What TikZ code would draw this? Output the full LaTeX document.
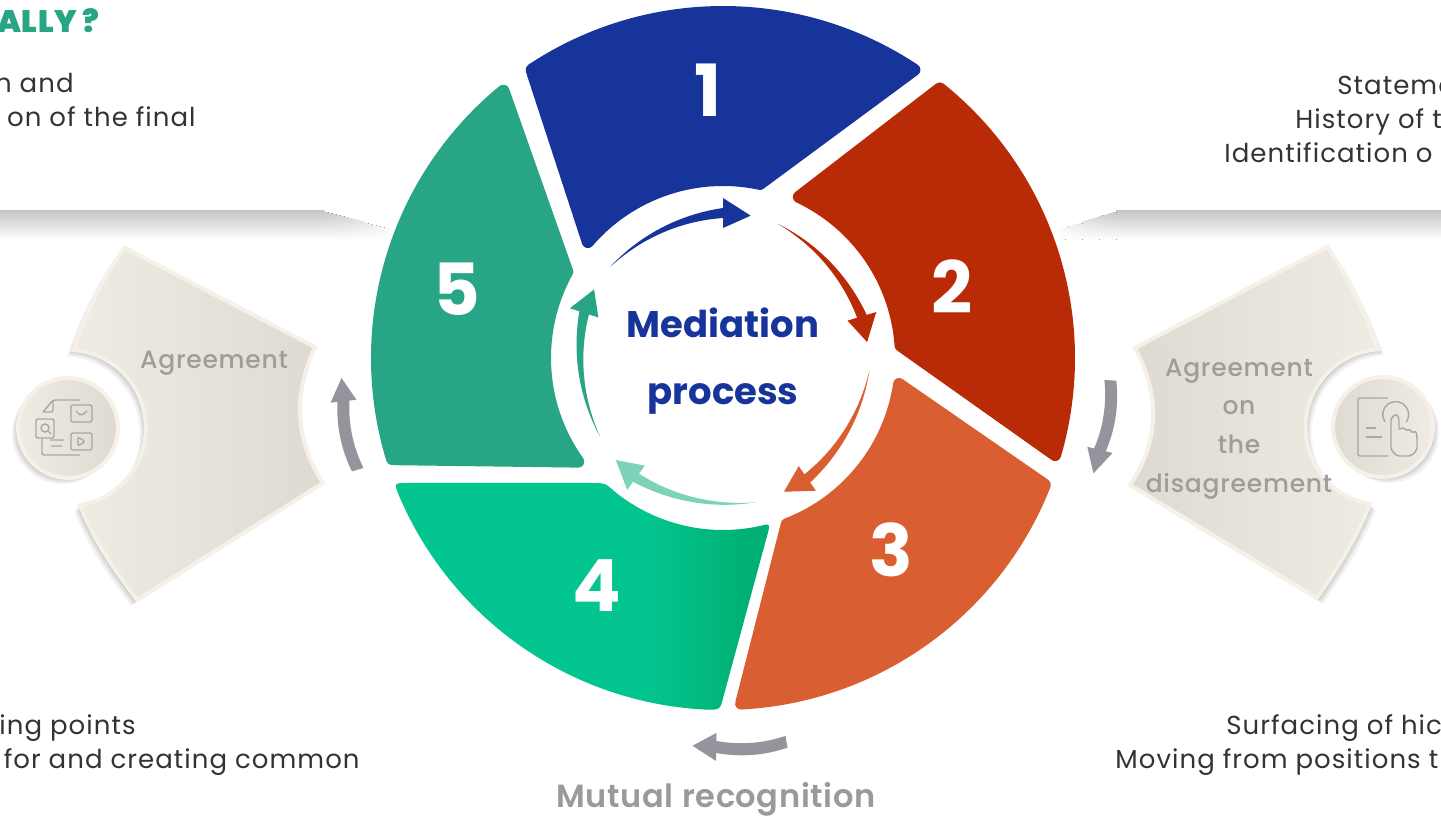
\documentclass[tikz,border=0pt]{standalone}
\usepackage{fontspec}
\setmainfont{Poppins}
\newfontfamily\bodyfont{Poppins}[LetterSpace=4]
\newfontfamily\medfont{Poppins Medium}[LetterSpace=3]
\newfontfamily\semifont{Poppins SemiBold}[LetterSpace=2]
\definecolor{blueseg}{HTML}{17349B}
\definecolor{redseg}{HTML}{B92B06}
\definecolor{orangeseg}{HTML}{D95F33}
\definecolor{greenseg}{HTML}{03C590}
\definecolor{greendark}{HTML}{00B074}
\definecolor{tealseg}{HTML}{27A585}
\definecolor{paleteal}{HTML}{7DD3B9}
\definecolor{greyarrow}{HTML}{94949C}
\definecolor{greytext}{HTML}{9A9A9A}
\definecolor{leafrim}{HTML}{F6F1E8}
\definecolor{leaflight}{HTML}{F1ECE3}
\definecolor{leafdark}{HTML}{DFDAD1}
\definecolor{leaftext}{HTML}{A09D96}
\definecolor{icongrey}{HTML}{ABA79F}
\definecolor{bodytext}{HTML}{333333}
\pgfdeclarehorizontalshading{greenfade}{100bp}{color(0bp)=(greenseg); color(58bp)=(greenseg); color(72bp)=(greendark); color(100bp)=(greendark)}
\tikzset{
    x=0.5pt, y=0.5pt, % one unit is one pixel of the reference
    seglabel/.style={text=white, font=\fontsize{36}{36}\bfseries\selectfont},
    bodyline/.style={text=bodytext, inner sep=0pt, font=\bodyfont\fontsize{13}{13}\selectfont},
    leaflabel/.style={text=leaftext, align=center, inner sep=0pt, font=\medfont\fontsize{12.5}{19.4}\selectfont},
    hublabel/.style={text=blueseg, font=\fontsize{18.5}{18.5}\bfseries\selectfont},
    leaf/.style={draw=leafrim, line width=2pt},
    iconline/.style={draw=icongrey, line width=0.7pt, rounded corners=1pt},
}
% outer start, outer end, inner end, inner start (shape of the rounded sectors)
\newcommand{\segpath}[4]{(#1:346) arc[start angle=#1, end angle=#2, radius=346] -- (#3:178) arc[start angle=#3, end angle=#4, radius=178] -- cycle}
% colour, tail, head base, tip, radius, half shaft, half head, half tail
\newcommand{\flowarrow}[8]{\fill[#1] ({#2}:{#5+#8})
    .. controls ({#2+(#3-#2)/3}:{(#5+#8+(#6-#8)/3)*1.012}) and ({#2+2*(#3-#2)/3}:{(#5+#8+2*(#6-#8)/3)*1.012}) .. ({#3}:{#5+#6})
    -- ({#3}:{#5+#7}) -- ({#4}:{#5}) -- ({#3}:{#5-#7}) -- ({#3}:{#5-#6})
    .. controls ({#2+2*(#3-#2)/3}:{(#5-#8-2*(#6-#8)/3)*1.012}) and ({#2+(#3-#2)/3}:{(#5-#8-(#6-#8)/3)*1.012}) .. ({#2}:{#5-#8}) -- cycle;}
\newcommand{\leftleaf}{(125,567) -- (315,468) .. controls (293,420) and (295,375) .. (323,332) -- (137,215) .. controls (112,248) and (92,278) .. (80,310) arc[start angle=-81, end angle=86, radius=78] .. controls (85,500) and (103,540) .. (125,567) -- cycle}
\newcommand{\rightleaf}{(1327,568) -- (1135,467) .. controls (1160,420) and (1160,375) .. (1130,330) -- (1317,217) .. controls (1340,250) and (1358,280) .. (1370,311) arc[start angle=260, end angle=94, radius=78] .. controls (1365,500) and (1348,540) .. (1327,568) -- cycle}

\begin{document}
\begin{tikzpicture}
  \useasboundingbox (0,0) rectangle (1441,815);
  \fill[white] (0,0) rectangle (1441,815);

  % shadow bands
  \fill[top color=black!22, bottom color=white] (0,604) rectangle (320,575);
  \fill[top color=black!22, bottom color=white] (1441,604) rectangle (1120,575);
  \foreach \i in {0,...,17}{
    \pgfmathsetmacro\tint{22*(1-\i/18)}
    \pgfmathsetmacro\dip{\i*1.1}
    \fill[top color=black!\tint, bottom color=white] ({320+\i*4},{604-\dip}) rectangle ({324.6+\i*4},575);
    \fill[top color=black!\tint, bottom color=white] ({1120-\i*3.4},{604-\dip}) rectangle ({1116-\i*3.4},575);
  }

  % leaves and their icon discs
  \foreach \off/\op in {6/.05,4/.08,2/.12}{
    \fill[black, opacity=\op, shift={(-\off,-\off)}] \leftleaf;
    \fill[black, opacity=\op, shift={(-\off,-\off)}] (68,387) circle (50);
    \fill[black, opacity=\op, shift={(\off,-\off)}] \rightleaf;
    \fill[black, opacity=\op, shift={(\off,-\off)}] (1383,388) circle (50);
  }
  \path[leaf, left color=leaflight, right color=leafdark] \leftleaf;
  \path[leaf, left color=leafdark, right color=leaflight] \rightleaf;
  \path[leaf, left color=leaflight, right color=leafdark] (68,387) circle (50);
  \path[leaf, left color=leafdark, right color=leaflight] (1383,388) circle (50);

  % left icon
  \draw[iconline] (43,403) -- (53,415) -- (80,415) (43,403) -- (53,403) -- (53,415);
  \draw[iconline] (71,393) rectangle (92,410) (76,404) -- (81,399) -- (87,404);
  \draw[iconline] (36,377) rectangle (54,396) (45,387) circle (4) (48,384) -- (51,381);
  \draw[iconline] (71,365) rectangle (92,382) (78,378) -- (78,369) -- (85,373.5) -- cycle;
  \draw[iconline] (42,377) -- (42,360) -- (80,360) (50,375) -- (64,375) (51,369) -- (62,369);
  % right icon
  \draw[iconline] (1388,417) -- (1358,417) -- (1358,359) -- (1388,359);
  \draw[iconline] (1366,387) -- (1376,387) (1366,378) -- (1382,378);
  \draw[icongrey, line width=0.7pt] (1385,393) arc[start angle=215, end angle=-35, radius=13];
  \draw[iconline] (1391,365) -- (1391,397) -- (1396,401) -- (1399,397) -- (1399,385) -- (1403,388) -- (1406,384) -- (1410,386) -- (1412,382) -- (1416,384) -- (1417,378) -- (1417,365) -- (1411,359) -- (1397,359) -- cycle;

  % ring
  \begin{scope}[shift={(723,457)}, line join=round, line width=6pt]
    \path[draw=blueseg, fill=blueseg] \segpath{123.6}{56.4}{78}{139.4};
    \path[draw=redseg, fill=redseg] \segpath{51.2}{-16.3}{4}{64.8};
    \path[draw=orangeseg, fill=orangeseg] \segpath{-21.5}{-87}{-69}{-8.4};
    \path[draw=tealseg, fill=tealseg] \segpath{197}{129.4}{151}{215.6};
    \path[shading=greenfade] (-93:352) arc[start angle=-93, end angle=-157, radius=352]
      .. controls (-329,-125) .. (-316,-125) -- (-130,-125) .. controls (-118,-125) .. (-129:172)
      arc[start angle=-129, end angle=-78, radius=172]
      .. controls (47.4,-165.3) .. (44.3,-177) -- (0.1,-340) .. controls (-3,-352) .. (-93:352) -- cycle;

    \flowarrow{blueseg}{141}{90}{79}{145}{5}{15}{0}
    \flowarrow{redseg}{68}{16.7}{6.3}{145}{5}{15}{0}
    \flowarrow{orangeseg}{-4.7}{-55}{-65.5}{147}{5}{15}{0}
    \flowarrow{paleteal}{-76.8}{-126}{-136.4}{148}{5}{15}{0}
    \flowarrow{tealseg}{212.8}{162}{152}{146}{5}{15}{0}

    \flowarrow{greyarrow}{197}{186.5}{183}{382}{6}{13}{6}
    \flowarrow{greyarrow}{-3.3}{-13.7}{-17.3}{388}{6}{13}{6}
    \flowarrow{greyarrow}{-80.6}{-91}{-94.5}{389}{6}{14}{6}
  \end{scope}

  \node[seglabel] (seg1) at (708,725) {1};
  \node[seglabel] (seg2) at (952,528) {2};
  \node[seglabel] (seg3) at (891,265) {3};
  \node[seglabel] (seg4) at (597,229) {4};
  \node[seglabel] (seg5) at (457,526) {5};

  \node[hublabel] (hub1) at (723,492) {Mediation};
  \node[hublabel] (hub2) at (723,416) {process};

  \node[leaflabel] (agree) at (214,452) {Agreement};
  \node[leaflabel] (disagree) at (1239,386) {Agreement\\on\\the\\disagreement};

  \node[anchor=base, text=greytext, inner sep=0pt, font=\semifont\fontsize{16}{16}\selectfont] (recog) at (716,8) {Mutual recognition};

  % cut by the page edges
  \node[anchor=base east, text=tealseg, inner sep=0pt, font=\semifont\fontsize{15.5}{15.5}\bfseries\selectfont] (title) at (100,782) {ALLY ?};
  \node[bodyline, anchor=base east] (tl1) at (74,722) {n and};
  \node[bodyline, anchor=base east] (tl2) at (196,688) {on of the final};
  \node[bodyline, anchor=base east] (bl1) at (136,81) {ing points};
  \node[bodyline, anchor=base east] (bl2) at (360,47) {for and creating common};
  \node[bodyline, anchor=base west] (tr1) at (1337,720) {Stateme};
  \node[bodyline, anchor=base west] (tr2) at (1295,686) {History of t};
  \node[bodyline, anchor=base west] (tr3) at (1224,652) {Identification o};
  \node[bodyline, anchor=base west] (br1) at (1226,81) {Surfacing of hic};
  \node[bodyline, anchor=base west] (br2) at (1115,47) {Moving from positions t};
\end{tikzpicture}
\end{document}
